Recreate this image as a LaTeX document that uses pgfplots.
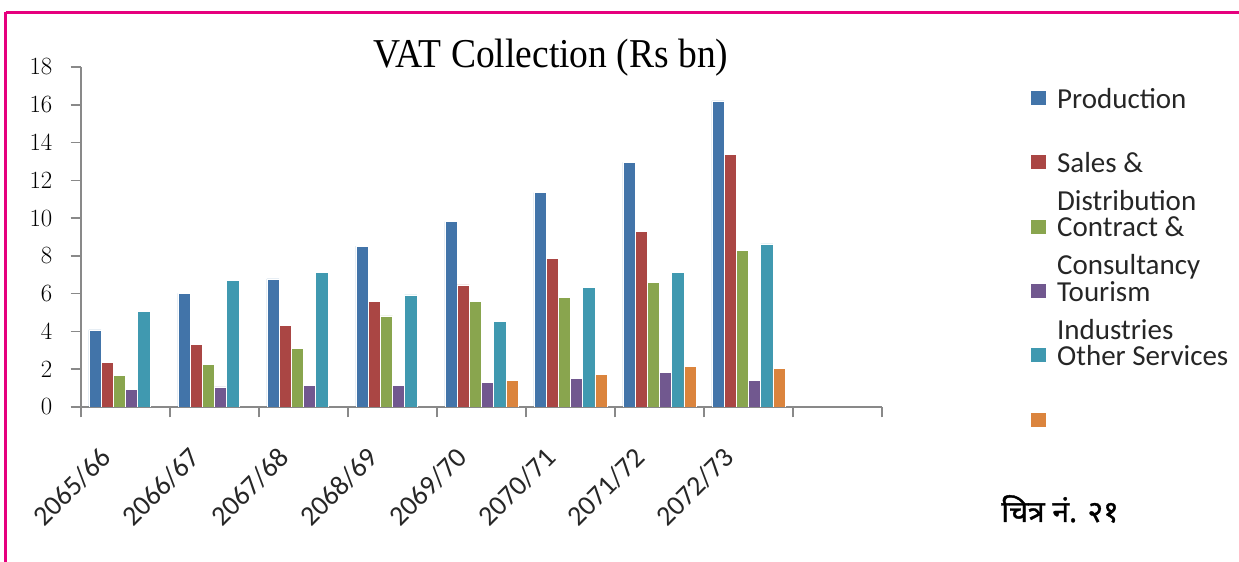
\documentclass[border=0pt]{standalone}
\usepackage{fontspec}
\usepackage{pgfplots}
\pgfplotsset{compat=1.18}
\setmainfont{Liberation Serif}
\newfontfamily\carlito{Carlito}
\newfontfamily\titlefont[FakeStretch=0.915]{Liberation Serif}
\newfontfamily\devfont[Script=Devanagari,FakeBold=1.2]{Noto Sans}
\definecolor{cProd}{HTML}{4274A9}
\definecolor{cSales}{HTML}{AA4644}
\definecolor{cCons}{HTML}{89A54E}
\definecolor{cTour}{HTML}{71588F}
\definecolor{cOther}{HTML}{4099B0}
\definecolor{cSix}{HTML}{DB843D}
\definecolor{axgray}{HTML}{898989}
\definecolor{border}{HTML}{E6007E}
\newcommand{\lentry}[1]{\smash{#1}}
\newcommand{\ltwo}[2]{\smash{\vtop{\baselineskip=38bp\hbox{#1}\hbox{#2}}}}
\begin{document}
\begin{tikzpicture}[x=1bp,y=1bp]
\useasboundingbox (0,0) rectangle (1239,562);
\draw[border, line width=3bp] (5.5,549.5) -- (1239,549.5);
\draw[border, line width=2.5bp] (5.5,549.5) -- (5.5,0);
\begin{axis}[
  at={(81bp,155bp)}, anchor=south west,
  scale only axis, width=801bp, height=340bp,
  xmin=-0.5, xmax=8.5, ymin=0, ymax=18,
  axis lines*=left,
  axis line style={axgray, line width=1.5bp},
  every tick/.style={axgray, line width=1.5bp},
  tick align=outside, major tick length=10.5bp,
  ytick={0,2,...,18},
  xtick={-0.5,0.5,...,8.5},
  x tick label as interval,
  xticklabels={2065/66,2066/67,2067/68,2068/69,2069/70,2070/71,2071/72,2072/73,{}},
  x tick label style={xshift=-27bp, yshift=-28bp, rotate=45, anchor=north east, inner sep=0pt,
    font=\carlito\fontsize{28bp}{30bp}\selectfont, text=black!85},
  y tick label style={anchor=east, inner sep=0pt, xshift=-18bp,
    font=\fontsize{25bp}{26bp}\selectfont},
  ybar=0pt, bar width=12.2bp,
  title={\titlefont\fontsize{41bp}{45bp}\selectfont VAT Collection (Rs bn)},
  title style={at={(0.5868,1)}, anchor=base, yshift=-6bp, inner sep=0pt},
  legend image code/.code={\draw[#1, draw=none] (0bp,3bp) rectangle (15bp,17bp); \path (25.7bp,0bp);},
  legend cell align=left,
  legend style={at={(1.1860,0.9294)}, anchor=north west, draw=none, fill=none,
    inner sep=0pt, row sep=45.8bp, column sep=0pt,
    nodes={inner sep=0pt, anchor=base west},
    font=\carlito\fontsize{29bp}{30bp}\selectfont, text=black!85},
]
\addplot[fill=cProd, draw=white, line width=0.5bp] coordinates {(0,4.08) (1,6.02) (2,6.78) (3,8.52) (4,9.81) (5,11.35) (6,12.95) (7,16.2)};
\addlegendentry{\lentry{Production}}
\addplot[fill=cSales, draw=white, line width=0.5bp] coordinates {(0,2.35) (1,3.33) (2,4.31) (3,5.61) (4,6.46) (5,7.87) (6,9.28) (7,13.39)};
\addlegendentry{\ltwo{Sales \&}{Distribution}}
\addplot[fill=cCons, draw=white, line width=0.5bp] coordinates {(0,1.69) (1,2.26) (2,3.11) (3,4.83) (4,5.61) (5,5.80) (6,6.58) (7,8.31)};
\addlegendentry{\ltwo{Contract \&}{Consultancy}}
\addplot[fill=cTour, draw=white, line width=0.5bp] coordinates {(0,0.94) (1,1.06) (2,1.16) (3,1.16) (4,1.29) (5,1.50) (6,1.82) (7,1.39)};
\addlegendentry{\ltwo{Tourism}{Industries}}
\addplot[fill=cOther, draw=white, line width=0.5bp] coordinates {(0,5.05) (1,6.69) (2,7.13) (3,5.93) (4,4.52) (5,6.35) (6,7.13) (7,8.64)};
\addlegendentry{\lentry{Other Services}}
\addplot[fill=cSix, draw=white, line width=0.5bp] coordinates {(4,1.39) (5,1.71) (6,2.15) (7,2.03)};
\addlegendentry{\lentry{}}
\end{axis}
\node[anchor=base, font=\devfont\fontsize{30bp}{32bp}\selectfont] at (1060,40) {चित्र नं. २१};
\end{tikzpicture}
\end{document}
